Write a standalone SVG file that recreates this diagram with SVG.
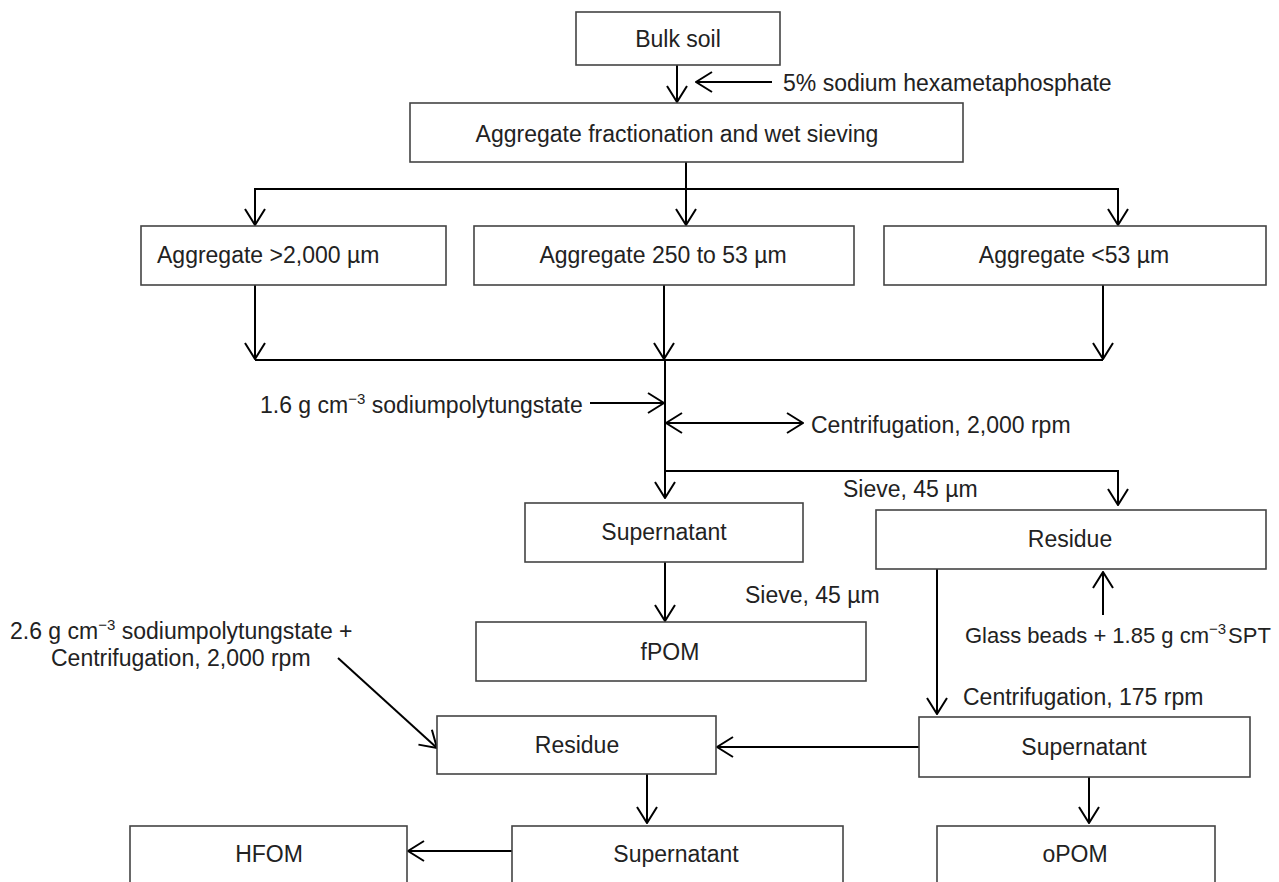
<svg xmlns="http://www.w3.org/2000/svg" width="1279" height="882" viewBox="0 0 1279 882">
<style>
.box{fill:#fff;stroke:#444;stroke-width:1.6}
.t{font-family:"Liberation Sans",Arial,sans-serif;font-size:23px;fill:#222}
.c{text-anchor:middle}
.ln{fill:none;stroke:#000;stroke-width:2}
.a{marker-end:url(#ah)}
.sup{font-size:15px}
</style>
<defs>
<marker id="ah" viewBox="0 0 18 22" refX="17" refY="11" markerWidth="18" markerHeight="22" markerUnits="userSpaceOnUse" orient="auto">
<path d="M1,1 L17,11 L1,21" fill="none" stroke="#000" stroke-width="2"/>
</marker>
<marker id="as" viewBox="0 0 18 22" refX="17" refY="11" markerWidth="18" markerHeight="22" markerUnits="userSpaceOnUse" orient="auto-start-reverse">
<path d="M1,1 L17,11 L1,21" fill="none" stroke="#000" stroke-width="2"/>
</marker>
</defs>
<rect width="1279" height="882" fill="#fff"/>
<g id="connectors">
<line class="ln a" x1="677" y1="65" x2="677" y2="102"/>
<line class="ln a" x1="772" y1="82" x2="696" y2="82"/>
<line class="ln a" x1="686" y1="162" x2="686" y2="225"/>
<polyline class="ln a" points="255,225 255,189 1118,189 1118,225"/>
<line class="ln a" x1="255" y1="189" x2="255" y2="225"/>
<line class="ln a" x1="255" y1="285" x2="255" y2="359"/>
<line class="ln a" x1="664" y1="285" x2="664" y2="359"/>
<line class="ln a" x1="1103" y1="285" x2="1103" y2="359"/>
<line class="ln" x1="255" y1="360" x2="1103" y2="360"/>
<line class="ln a" x1="665" y1="360" x2="665" y2="498"/>
<line class="ln a" x1="590" y1="403" x2="664" y2="403"/>
<line class="ln" x1="666" y1="423" x2="803" y2="423" marker-start="url(#as)" marker-end="url(#ah)"/>
<polyline class="ln a" points="665,471 1118,471 1118,505"/>
<line class="ln a" x1="665" y1="562" x2="665" y2="621"/>
<line class="ln a" x1="937" y1="569" x2="937" y2="714"/>
<line class="ln a" x1="1103" y1="615" x2="1103" y2="572"/>
<line class="ln a" x1="919" y1="747" x2="717" y2="747"/>
<line class="ln a" x1="338" y1="658" x2="437" y2="748"/>
<line class="ln a" x1="647" y1="774" x2="647" y2="823"/>
<line class="ln a" x1="1089" y1="777" x2="1089" y2="823"/>
<line class="ln a" x1="512" y1="851" x2="408" y2="851"/>
</g>
<g id="bulk-soil"><rect class="box" x="576" y="12" width="204" height="53"/><text class="t c" x="678" y="47">Bulk soil</text></g>
<g id="label-hexa"><text class="t" x="783" y="91">5% sodium hexametaphosphate</text></g>
<g id="aggregate-fractionation"><rect class="box" x="410" y="103" width="553" height="59"/><text class="t c" x="677" y="142">Aggregate fractionation and wet sieving</text></g>
<g id="agg-2000"><rect class="box" x="141" y="226" width="305" height="59"/><text class="t" x="157" y="263">Aggregate &gt;2,000 µm</text></g>
<g id="agg-250"><rect class="box" x="474" y="226" width="380" height="59"/><text class="t c" x="663" y="263">Aggregate 250 to 53 µm</text></g>
<g id="agg-53"><rect class="box" x="884" y="226" width="382" height="59"/><text class="t c" x="1074" y="263">Aggregate &lt;53 µm</text></g>
<g id="label-16"><text class="t" x="260" y="413">1.6 g cm<tspan class="sup" dy="-9">−3</tspan><tspan dy="9"> sodiumpolytungstate</tspan></text></g>
<g id="label-centri-2000"><text class="t" x="811" y="433">Centrifugation, 2,000 rpm</text></g>
<g id="label-sieve-1"><text class="t" x="843" y="497">Sieve, 45 µm</text></g>
<g id="supernatant-1"><rect class="box" x="525" y="503" width="278" height="59"/><text class="t c" x="664" y="540">Supernatant</text></g>
<g id="residue-1"><rect class="box" x="876" y="510" width="390" height="59"/><text class="t c" x="1070" y="547">Residue</text></g>
<g id="label-sieve-2"><text class="t" x="745" y="603">Sieve, 45 µm</text></g>
<g id="fpom"><rect class="box" x="476" y="622" width="390" height="59"/><text class="t c" x="670" y="660">fPOM</text></g>
<g id="label-glass"><text class="t" x="965" y="643" style="font-size:22px">Glass beads + 1.85 g cm<tspan class="sup" dy="-9">−3</tspan><tspan dy="9" dx="2">SPT</tspan></text></g>
<g id="label-26"><text class="t" x="10" y="639">2.6 g cm<tspan class="sup" dy="-9">−3</tspan><tspan dy="9">  sodiumpolytungstate +</tspan></text><text class="t" x="51" y="666">Centrifugation, 2,000 rpm</text></g>
<g id="label-centri-175"><text class="t" x="963" y="705">Centrifugation, 175 rpm</text></g>
<g id="residue-2"><rect class="box" x="437" y="716" width="279" height="58"/><text class="t c" x="577" y="753">Residue</text></g>
<g id="supernatant-2"><rect class="box" x="919" y="717" width="331" height="60"/><text class="t c" x="1084" y="755">Supernatant</text></g>
<g id="hfom"><rect class="box" x="130" y="826" width="277" height="70"/><text class="t c" x="269" y="862">HFOM</text></g>
<g id="supernatant-3"><rect class="box" x="512" y="826" width="331" height="70"/><text class="t c" x="676" y="862">Supernatant</text></g>
<g id="opom"><rect class="box" x="937" y="826" width="278" height="70"/><text class="t c" x="1075" y="862">oPOM</text></g>
</svg>
